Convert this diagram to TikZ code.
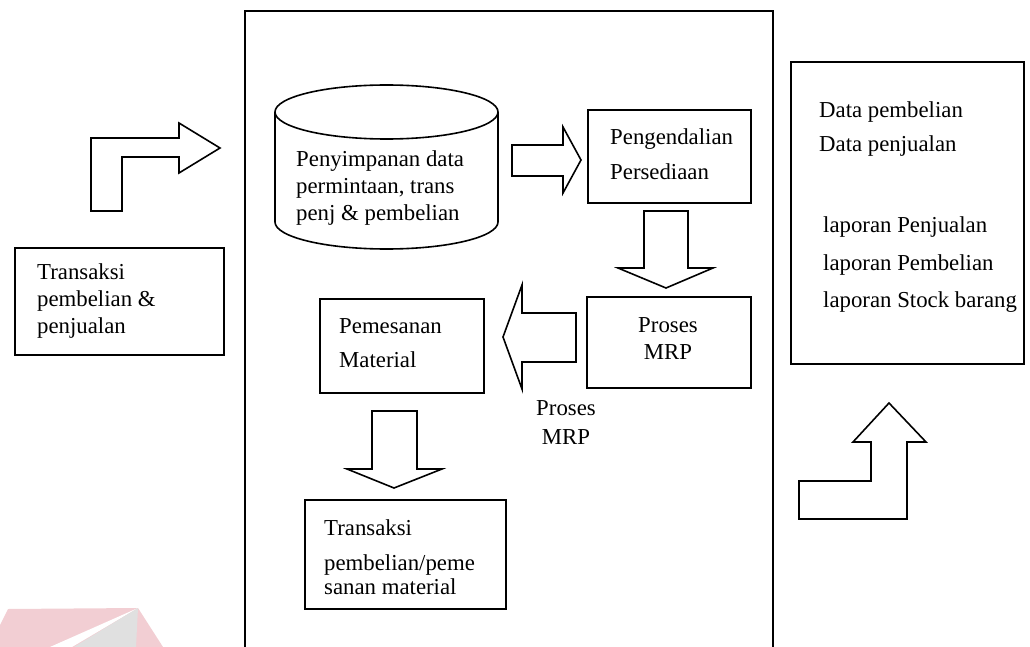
\documentclass[tikz,border=0pt]{standalone}
\usepackage{fontspec}
\setmainfont{Liberation Serif}
\definecolor{wmpink}{RGB}{242,206,211}
\definecolor{wmgray}{RGB}{224,224,224}
\begin{document}
\begin{tikzpicture}[x=1pt,y=-1pt,
  shp/.style={draw=black,line width=1.6pt,line join=miter,fill=white},
  box/.style={draw=black,line width=1.6pt,anchor=north west,inner sep=0pt},
  txt/.style={font=\fontsize{22.8}{27}\selectfont,inner sep=0pt,align=left,anchor=base west},
  ctxt/.style={font=\fontsize{22.8}{27}\selectfont,inner sep=0pt,align=center,anchor=base}]
\useasboundingbox (0,0) rectangle (1030,647);
% watermark fragment
\fill[wmpink] (8,609) -- (138,608) -- (163,647) -- (0,647) -- (0,625) -- cycle;
\fill[white] (138,608) -- (50,647) -- (72,647) -- cycle;
\fill[wmgray] (138,608) -- (74,647) -- (136,647) -- cycle;
% big system box (open at bottom)
\draw[line width=2pt] (245,647) -- (245,11) -- (773,11) -- (773,647);
% left input
\draw[shp] (91,211) -- (91,138) -- (179,138) -- (179,123) -- (220,148) -- (179,173) -- (179,157) -- (122,157) -- (122,211) -- cycle;
\node[box,minimum width=209pt,minimum height=107pt] (inbox) at (14,247) {};
\node[txt] (intext) at (37,333) {Transaksi\\pembelian \&\\penjualan};
% cylinder
\draw[shp] (275,112) -- (275,222)
  arc[start angle=180,end angle=360,x radius=111.5pt,y radius=27pt]
  -- (498,112)
  arc[start angle=0,end angle=180,x radius=111.5pt,y radius=27pt] -- cycle;
\draw[line width=1.6pt] (275,112) arc[start angle=180,end angle=360,x radius=111.5pt,y radius=27pt];
\node[txt] (cyltext) at (296,220) {Penyimpanan data\\permintaan, trans\\penj \& pembelian};
% arrow cylinder -> pengendalian
\draw[shp] (512,145) -- (563,145) -- (563,127) -- (581,160) -- (563,193) -- (563,176) -- (512,176) -- cycle;
\node[box,minimum width=163pt,minimum height=93pt] (peng) at (587,109) {};
\node[txt] (pengtext) at (610,180) {Pengendalian\\[8pt]Persediaan};
% down arrow
\draw[shp] (644,211) -- (688,211) -- (688,268) -- (713,268) -- (666,288) -- (618,268) -- (644,268) -- cycle;
\node[box,minimum width=164pt,minimum height=91pt] (mrp) at (586,296) {};
\node[ctxt] (mrptext) at (668,359) {Proses\\MRP};
% left arrow
\draw[shp] (576,313) -- (576,362) -- (522,362) -- (522,389) -- (503,337) -- (522,285) -- (522,313) -- cycle;
\node[ctxt] (mrplabel) at (566,444) {Proses\\[2pt]MRP};
\node[box,minimum width=164pt,minimum height=94pt] (pem) at (319,298) {};
\node[txt] (pemtext) at (339,367) {Pemesanan\\[7pt]Material};
% down arrow 2
\draw[shp] (372,411) -- (417,411) -- (417,469) -- (442,469) -- (394,488) -- (347,469) -- (372,469) -- cycle;
\node[box,minimum width=201pt,minimum height=109pt] (trx) at (304,499) {};
\node[txt] (trxtext) at (324,594) {Transaksi\\[8pt]pembelian/peme\\[-3pt]sanan material};
% output box
\node[box,minimum width=233pt,minimum height=302pt] (out) at (790,61) {};
\node[txt] (outtext1) at (819,152) {Data pembelian\\[7pt]Data penjualan};
\node[txt] (outtext2) at (823,307) {laporan Penjualan\\[11pt]laporan Pembelian\\[10pt]laporan Stock barang};
% bent up arrow
\draw[shp] (799,519) -- (799,481) -- (871,481) -- (871,442) -- (853,442) -- (889,403) -- (926,442) -- (907,442) -- (907,519) -- cycle;
\end{tikzpicture}
\end{document}
